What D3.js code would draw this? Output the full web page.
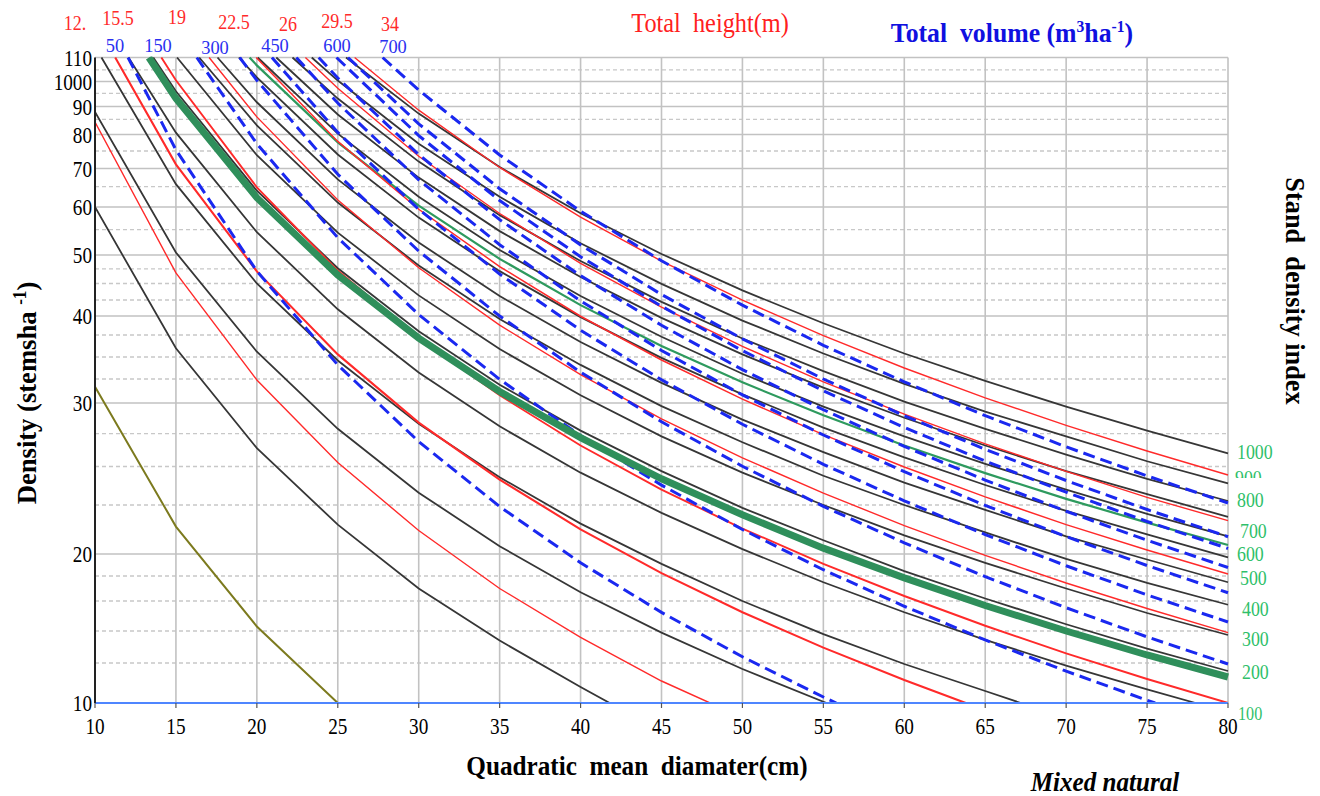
<!DOCTYPE html>
<html>
<head>
<meta charset="utf-8">
<script src="https://cdn.jsdelivr.net/npm/d3@7"></script>
<style>
  body { margin: 0; background: #fff; }
  text { font-family: "Liberation Serif", "Times New Roman", serif; white-space: pre; }
</style>
</head>
<body>
<svg id="chart" width="1320" height="796"></svg>
<script>
// ---- data ----
const xTicks = [10, 15, 20, 25, 30, 35, 40, 45, 50, 55, 60, 65, 70, 75, 80];
const yMajor = [10, 20, 30, 40, 50, 60, 70, 80, 90, 100, 110];
const yMajorLabels = ['10', '20', '30', '40', '50', '60', '70', '80', '90', '1000', '110'];
const yMinor = [12, 14, 16, 18, 22.5, 25, 27.5, 32.5, 35, 37.5, 42.5, 45, 47.5, 55, 65, 75, 85, 95, 105];

const heightLabels = ['12.', '15.5', '19', '22.5', '26', '29.5', '34'];
const volumeLabels = ['50', '150', '300', '450', '600', '700'];
const sdiLabels = ['1000', '900', '800', '700', '600', '500', '400', '300', '200', '100'];

// stand density index lines (black)
const sdiLines = [
  [[10, 60], [15, 36.0], [20, 26.4], [25, 21.5], [30, 17.0], [35, 13.4], [40, 10.8], [41.8, 10]],
  [[10, 87.9], [15, 50.5], [20, 35.6], [25, 27.9], [30, 23.3], [35, 20.4], [40, 16.7], [45, 13.9], [50, 11.7], [55.2, 10]],
  [[10.4, 110], [15, 65.7], [20, 45.0], [25, 34.6], [30, 28.3], [35, 24.3], [40, 21.55], [45, 19.1], [50, 16.0], [55, 13.8], [60, 11.95], [65, 10.6], [67.2, 10]],
  [[12.07, 110], [15, 80.6], [20, 54.5], [25, 41.05], [30, 33.25], [35, 28.1], [40, 24.6], [45, 22.1], [50, 20.25], [55, 17.5], [60, 15.25], [65, 13.45], [70, 11.87], [75, 10.68], [78, 10]],
  [[13.6, 110], [15, 95.85], [20, 64.0], [25, 47.6], [30, 38.0], [35, 31.9], [40, 27.75], [45, 24.7], [50, 22.35], [55, 20.7], [60, 18.45], [65, 16.2], [70, 14.45], [75, 12.9], [80, 11.6]],
  [[15.07, 110], [20, 73.8], [25, 54.4], [30, 43.2], [35, 35.9], [40, 30.8], [45, 27.3], [50, 24.6], [55, 22.5], [60, 20.95], [65, 19.2], [70, 17.0], [75, 15.2], [80, 13.75]],
  [[16.44, 110], [20, 83.05], [25, 61.1], [30, 48.1], [35, 39.6], [40, 34.1], [45, 29.75], [50, 26.85], [55, 24.4], [60, 22.5], [65, 21.1], [70, 19.55], [75, 17.45], [80, 15.75]],
  [[17.57, 110], [20, 91.6], [25, 67.0], [30, 52.45], [35, 43.1], [40, 36.7], [45, 32.1], [50, 28.65], [55, 26.1], [60, 23.95], [65, 22.25], [70, 20.9], [75, 19.5], [80, 17.5]],
  [[18.89, 110], [20, 101.8], [25, 74.0], [30, 57.65], [35, 47.1], [40, 39.85], [45, 34.9], [50, 30.9], [55, 28.0], [60, 25.7], [65, 23.8], [70, 22.2], [75, 21.0], [80, 19.7]],
  [[20.05, 110], [25, 80.3], [30, 62.55], [35, 51.0], [40, 43.1], [45, 37.3], [50, 33.1], [55, 29.7], [60, 27.3], [65, 25.2], [70, 23.5], [75, 22.05], [80, 20.9]],
  [[21.2, 110], [25, 86.9], [30, 67.5], [35, 54.7], [40, 46.1], [45, 39.75], [50, 35.3], [55, 31.6], [60, 28.8], [65, 26.6], [70, 24.7], [75, 23.2], [80, 21.9]],
  [[22.2, 110], [25, 93.0], [30, 71.97], [35, 58.2], [40, 48.9], [45, 42.2], [50, 37.1], [55, 33.4], [60, 30.15], [65, 27.9], [70, 25.9], [75, 24.2], [80, 22.76]],
  [[23.39, 110], [25, 100.4], [30, 77.2], [35, 62.5], [40, 52.3], [45, 44.95], [50, 39.4], [55, 35.4], [60, 32.0], [65, 29.3], [70, 27.3], [75, 25.4], [80, 23.9]],
  [[25.51, 110], [30, 87.25], [35, 70.4], [40, 58.6], [45, 50.2], [50, 43.95], [55, 39.05], [60, 35.4], [65, 32.3], [70, 29.7], [75, 27.75], [80, 26.0]]
];

// total height lines (red)
const heightLines = [
  [[10, 84.1], [15, 46.8], [20, 32.4], [25, 25.3], [30, 21.2], [35, 17.0], [40, 13.6], [45, 11.1], [48, 10]],
  [[11.25, 110], [15, 71.2], [20, 47.06], [25, 35.3], [30, 28.4], [35, 24.15], [40, 21.26], [45, 18.26], [50, 15.25], [55, 12.96], [60, 11.15], [63.8, 10]],
  [[14.1, 110], [15, 100.5], [20, 64.85], [25, 47.2], [30, 37.1], [35, 30.8], [40, 26.6], [45, 23.5], [50, 21.3], [55, 19.1], [60, 16.4], [65, 14.35], [70, 12.6], [75, 11.2], [80, 10]],
  [[17.05, 110], [20, 85.97], [25, 61.7], [30, 47.7], [35, 38.8], [40, 33.0], [45, 28.7], [50, 25.66], [55, 23.27], [60, 21.45], [65, 19.87], [70, 17.44], [75, 15.5], [80, 13.9]],
  [[19.96, 110], [25, 77.9], [30, 59.5], [35, 47.9], [40, 39.97], [45, 34.66], [50, 30.4], [55, 27.43], [60, 24.97], [65, 23.03], [70, 21.5], [75, 20.2], [80, 18.18]],
  [[23.0, 110], [25, 97.1], [30, 73.5], [35, 58.56], [40, 48.5], [45, 41.4], [50, 36.2], [55, 32.2], [60, 29.1], [65, 26.73], [70, 24.68], [75, 23.0], [80, 21.7]],
  [[26.04, 110], [30, 88.57], [35, 70.3], [40, 57.74], [45, 48.9], [50, 42.47], [55, 37.43], [60, 33.75], [65, 30.54], [70, 28.18], [75, 26.18], [80, 24.45]]
];
const heightWidths = [1.4, 2.1, 1.9, 1.4, 1.5, 1.4, 1.4];

// total volume lines (blue dashed)
const volumeLines = [
  [[12.04, 110], [15, 75.33], [20, 47.1], [25, 34.1], [30, 26.9], [35, 22.42], [40, 19.2], [45, 15.24], [50, 12.39], [55, 10.3], [55.8, 10]],
  [[16.29, 110], [20, 77.2], [25, 53.4], [30, 40.23], [35, 32.46], [40, 27.36], [45, 23.79], [50, 21.25], [55, 18.57], [60, 15.65], [65, 13.44], [70, 11.59], [75, 10.14], [75.5, 10]],
  [[18.94, 110], [20, 100.47], [25, 68.4], [30, 50.77], [35, 40.0], [40, 33.27], [45, 28.47], [50, 25.02], [55, 22.43], [60, 20.57], [65, 17.95], [70, 15.55], [75, 13.63], [80, 11.95]],
  [[20.93, 110], [25, 80.7], [30, 59.5], [35, 46.6], [40, 38.13], [45, 32.42], [50, 28.27], [55, 25.17], [60, 22.77], [65, 20.99], [70, 18.93], [75, 16.49], [80, 14.6]],
  [[22.44, 110], [25, 91.3], [30, 66.9], [35, 52.03], [40, 42.36], [45, 35.74], [50, 30.84], [55, 27.4], [60, 24.67], [65, 22.48], [70, 20.89], [75, 18.95], [80, 16.66]],
  [[23.82, 110], [25, 101.5], [30, 73.97], [35, 57.2], [40, 46.33], [45, 38.78], [50, 33.56], [55, 29.45], [60, 26.53], [65, 24.12], [70, 22.18], [75, 20.7], [80, 18.77]],
  [[24.92, 110], [30, 79.67], [35, 61.6], [40, 49.69], [45, 41.52], [50, 35.72], [55, 31.27], [60, 28.01], [65, 25.41], [70, 23.33], [75, 21.66], [80, 20.28]],
  [[25.63, 110], [30, 83.54], [35, 64.5], [40, 51.99], [45, 43.33], [50, 37.06], [55, 32.5], [60, 28.97], [65, 26.31], [70, 24.09], [75, 22.27], [80, 20.88]],
  [[27.77, 110], [30, 96.36], [35, 73.86], [40, 59.07], [45, 48.95], [50, 41.69], [55, 36.33], [60, 32.2], [65, 28.97], [70, 26.5], [75, 24.39], [80, 22.63]]
];

const greenThick = [[13.33, 110], [15, 93.1], [20, 62.3], [25, 46.45], [30, 37.15], [35, 31.2], [40, 27.2], [45, 24.2], [50, 22.0], [55, 20.3], [60, 17.85], [65, 15.7], [70, 14.0], [75, 12.5], [80, 11.3]];
const greenThin = [[19.55, 110], [20, 106.8], [25, 77.6], [30, 60.35], [35, 49.3], [40, 41.7], [45, 36.25], [50, 32.15], [55, 29.0], [60, 26.6], [65, 24.57], [70, 22.9], [75, 21.6], [80, 20.46]];
const oliveLine = [[10, 31.7], [15, 21.4], [20, 14.3], [25, 10]];

// ---- layout ----
const svg = d3.select('#chart');
const plot = { left: 95, right: 1228, top: 57.5, bottom: 703 };

const x = d3.scaleLinear().domain([10, 80]).range([plot.left, plot.right]);

// the printed density axis is uneven, so each grid line gets its own position
const yDomain = yMajor.concat(yMinor).sort((a, b) => a - b);
const yRange = [703, 663, 631, 601, 576, 554, 505, 466.5, 433.7, 403, 379, 357, 335, 316, 300,
  283.5, 268.8, 255, 229.6, 207, 186.7, 168.5, 151, 134.5, 119.4, 106.5, 93.3, 81.5, 69.8, 57.5];
const y = d3.scaleLinear().domain(yDomain).range(yRange);

const grid = svg.append('g');
grid.selectAll('.minor')
  .data(yMinor)
  .enter()
  .append('line')
  .attr('x1', plot.left).attr('x2', plot.right)
  .attr('y1', (d) => y(d)).attr('y2', (d) => y(d))
  .attr('stroke', '#c8c8c8')
  .attr('stroke-width', 1.3)
  .attr('stroke-dasharray', '4,3');

grid.selectAll('.major')
  .data(yMajor.slice(1))
  .enter()
  .append('line')
  .attr('x1', plot.left).attr('x2', plot.right)
  .attr('y1', (d) => y(d)).attr('y2', (d) => y(d))
  .attr('stroke', '#c2c2c2')
  .attr('stroke-width', 1.6);

grid.selectAll('.vert')
  .data(xTicks.slice(1))
  .enter()
  .append('line')
  .attr('x1', (d) => x(d)).attr('x2', (d) => x(d))
  .attr('y1', plot.top).attr('y2', plot.bottom)
  .attr('stroke', '#c2c2c2')
  .attr('stroke-width', 1.6);

svg.append('clipPath').attr('id', 'plotClip')
  .append('rect')
  .attr('x', plot.left).attr('y', plot.top - 1)
  .attr('width', plot.right - plot.left + 1)
  .attr('height', plot.bottom - plot.top + 1);

const lines = svg.append('g').attr('clip-path', 'url(#plotClip)');
const line = d3.line().x((d) => x(d[0])).y((d) => y(d[1]));

const drawSet = (set, color, width, dash) => {
  lines.selectAll(null)
    .data(set)
    .enter()
    .append('path')
    .attr('d', line)
    .attr('fill', 'none')
    .attr('stroke', color)
    .attr('stroke-width', (d, i) => (Array.isArray(width) ? width[i] : width))
    .attr('stroke-dasharray', dash || null);
};

drawSet(sdiLines, '#363636', 1.8);
drawSet([oliveLine], '#7c7a1e', 2);
drawSet([greenThin], '#2e9a5e', 2.2);
drawSet(heightLines, '#ff2a2a', heightWidths);
drawSet(volumeLines, '#1a28f0', 3, '12,6');
drawSet([greenThick], '#2f8f5b', 7);

// axes
svg.append('line')
  .attr('x1', plot.left).attr('x2', plot.right)
  .attr('y1', y(10)).attr('y2', y(10))
  .attr('stroke', '#4f86ff').attr('stroke-width', 2.2);
svg.selectAll('.xtick')
  .data(xTicks)
  .enter()
  .append('line')
  .attr('x1', (d) => x(d)).attr('x2', (d) => x(d))
  .attr('y1', y(10)).attr('y2', y(10) + 5)
  .attr('stroke', '#555').attr('stroke-width', 1.2);
svg.append('line')
  .attr('x1', plot.left).attr('x2', plot.left)
  .attr('y1', plot.top).attr('y2', plot.bottom)
  .attr('stroke', '#222').attr('stroke-width', 2);

// the printed text is tall and narrow, so glyphs get squeezed sideways
const squeeze = (sel, tx, ty, sx, rot) =>
  sel.attr('transform', (d, i) => {
    const px = typeof tx === 'function' ? tx(d, i) : tx;
    const py = typeof ty === 'function' ? ty(d, i) : ty;
    return `translate(${px},${py})${rot ? ` rotate(${rot})` : ''} scale(${sx},1)`;
  });

squeeze(svg.selectAll('.xlab')
  .data(xTicks)
  .enter()
  .append('text')
  .attr('text-anchor', 'middle')
  .attr('font-size', 24)
  .text((d) => d), (d) => x(d), 734, 0.8);

squeeze(svg.selectAll('.ylab')
  .data(yMajor)
  .enter()
  .append('text')
  .attr('text-anchor', 'end')
  .attr('font-size', 24)
  .text((d, i) => yMajorLabels[i]), 92, (d) => y(d) + 8, 0.8);

// titles
squeeze(svg.append('text')
  .attr('text-anchor', 'middle')
  .attr('font-size', 28).attr('font-weight', 'bold')
  .text('Quadratic  mean  diamater(cm)'), 637, 775, 0.9);

squeeze(svg.append('text')
  .attr('text-anchor', 'middle')
  .attr('font-size', 27).attr('font-weight', 'bold').attr('font-style', 'italic')
  .text('Mixed natural'), 1105, 791, 0.93);

const yTitle = squeeze(svg.append('text')
  .attr('text-anchor', 'middle')
  .attr('font-size', 28).attr('font-weight', 'bold'), 36, 393, 0.95, -90);
yTitle.append('tspan').text('Density (stemsha ');
yTitle.append('tspan').attr('font-size', 18).attr('dy', -10).text('-1');
yTitle.append('tspan').attr('dy', 10).text(')');

squeeze(svg.append('text')
  .attr('text-anchor', 'middle')
  .attr('font-size', 28).attr('font-weight', 'bold')
  .text('Stand  density index'), 1286, 291, 0.94, 90);

squeeze(svg.append('text')
  .attr('text-anchor', 'middle')
  .attr('font-size', 27).attr('fill', '#ff2020')
  .text('Total  height(m)'), 710, 32, 0.9);

const volTitle = squeeze(svg.append('text')
  .attr('text-anchor', 'middle')
  .attr('font-size', 28).attr('font-weight', 'bold').attr('fill', '#1010e0'), 1012, 42, 0.92);
volTitle.append('tspan').text('Total  volume (m');
volTitle.append('tspan').attr('font-size', 17).attr('dy', -10).text('3');
volTitle.append('tspan').attr('dy', 10).text('ha');
volTitle.append('tspan').attr('font-size', 17).attr('dy', -10).text('-1');
volTitle.append('tspan').attr('dy', 10).text(')');

// line labels along the top
const heightLabelPos = [[75, 30], [118, 25], [177, 24], [234, 29], [288, 31], [337, 28], [390, 31]];
squeeze(svg.selectAll('.hlab')
  .data(heightLabels)
  .enter()
  .append('text')
  .attr('text-anchor', 'middle')
  .attr('font-size', 22).attr('fill', '#ff2a2a')
  .text((d) => d), (d, i) => heightLabelPos[i][0], (d, i) => heightLabelPos[i][1], 0.82);

const volumeLabelPos = [[115, 52], [158, 52], [215, 54], [275, 52], [337, 52], [393, 53]];
squeeze(svg.selectAll('.vlab')
  .data(volumeLabels)
  .enter()
  .append('text')
  .attr('text-anchor', 'middle')
  .attr('font-size', 19).attr('fill', '#2a30f0')
  .text((d) => d), (d, i) => volumeLabelPos[i][0], (d, i) => volumeLabelPos[i][1], 0.97);

// stand density index labels on the right; "900" is half hidden in the print
const sdiLabelPos = [[1237, 459], [1235, 485], [1237, 507], [1240, 538], [1237, 561], [1240, 585], [1242, 616], [1242, 646], [1242, 679], [1238, 720]];
svg.append('clipPath').attr('id', 'cut900')
  .append('rect').attr('x', 1228).attr('y', 460).attr('width', 60).attr('height', 18);
const sdiGroups = svg.selectAll('.slab')
  .data(sdiLabels)
  .enter()
  .append('g')
  .attr('clip-path', (d, i) => (i === 1 ? 'url(#cut900)' : null));
squeeze(sdiGroups.append('text')
  .attr('font-size', (d, i) => (i === 9 ? 19 : 21))
  .attr('fill', '#2fbf6a')
  .text((d) => d), (d, i) => sdiLabelPos[i][0], (d, i) => sdiLabelPos[i][1], 0.85);
</script>
</body>
</html>
